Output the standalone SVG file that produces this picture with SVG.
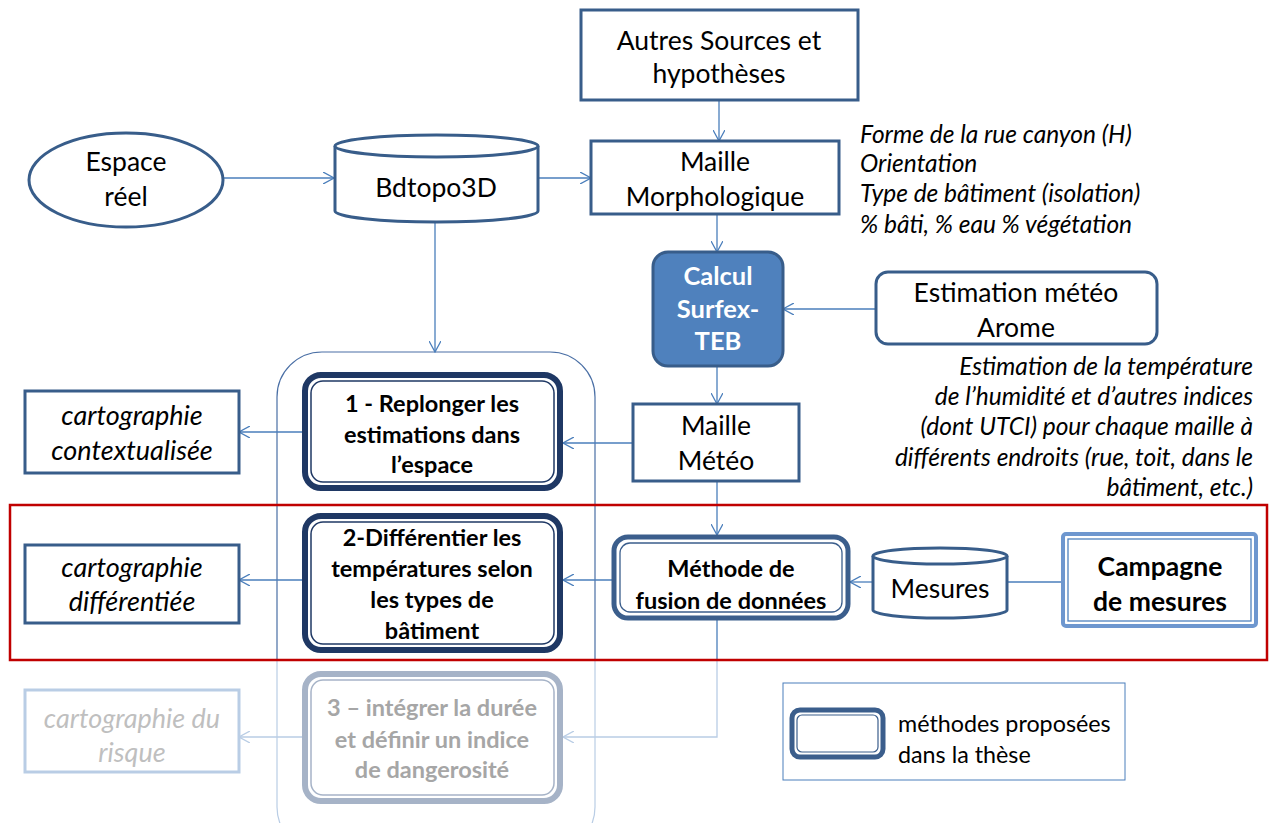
<svg xmlns="http://www.w3.org/2000/svg" width="1269" height="823" viewBox="0 0 1269 823">
<defs>
<marker id="arr" viewBox="0 0 12 12" refX="11" refY="6" markerWidth="12" markerHeight="12" markerUnits="userSpaceOnUse" orient="auto">
<path d="M0,0 L11,6 L0,12" fill="none" stroke="#4a7ebb" stroke-width="1.3"/>
</marker>
<marker id="arrL" viewBox="0 0 12 12" refX="11" refY="6" markerWidth="12" markerHeight="12" markerUnits="userSpaceOnUse" orient="auto">
<path d="M0,0 L11,6 L0,12" fill="none" stroke="#b9cde5" stroke-width="1.3"/>
</marker>
<clipPath id="topc"><rect x="0" y="0" width="1269" height="660"/></clipPath>
<clipPath id="botc"><rect x="0" y="660" width="1269" height="200"/></clipPath>
</defs>
<style>
text{font-family:Lato,"Liberation Sans",sans-serif;fill:#000;text-anchor:middle}
.n{font-size:26.5px}
.it{font-style:italic;font-size:24.5px}
.b{font-weight:bold;font-size:23.5px}
.box{fill:#fff;stroke:#385d8a;stroke-width:3}
.con{fill:none;stroke:#4a7ebb;stroke-width:1.3}
.conL{fill:none;stroke:#b9cde5;stroke-width:1.3}
.dk{fill:#fff;stroke:#1f3864;stroke-width:6}
.dki{fill:none;stroke:#1f3864;stroke-width:1.5}
</style>
<rect width="1269" height="823" fill="#fff"/>

<g id="container">
<rect x="277" y="352" width="318" height="500" rx="45" fill="none" stroke="#4a6fa5" stroke-width="1.2" clip-path="url(#topc)"/>
<rect x="277" y="352" width="318" height="500" rx="45" fill="none" stroke="#b9cde5" stroke-width="1.2" clip-path="url(#botc)"/>
</g>

<g id="connectors">
<line class="con" x1="719" y1="100" x2="719" y2="141" marker-end="url(#arr)"/>
<line class="con" x1="224" y1="178" x2="334" y2="178" marker-end="url(#arr)"/>
<line class="con" x1="538" y1="178" x2="591" y2="178" marker-end="url(#arr)"/>
<line class="con" x1="717" y1="214" x2="717" y2="252" marker-end="url(#arr)"/>
<line class="con" x1="876" y1="309" x2="783" y2="309" marker-end="url(#arr)"/>
<line class="con" x1="435" y1="222" x2="435" y2="352" marker-end="url(#arr)"/>
<line class="con" x1="717" y1="366" x2="717" y2="404" marker-end="url(#arr)"/>
<line class="con" x1="633" y1="443" x2="563" y2="443" marker-end="url(#arr)"/>
<line class="con" x1="302" y1="432" x2="239" y2="432" marker-end="url(#arr)"/>
<line class="con" x1="717" y1="481" x2="717" y2="535" marker-end="url(#arr)"/>
<line class="con" x1="873" y1="582" x2="850" y2="582" marker-end="url(#arr)"/>
<line class="con" x1="1062" y1="582" x2="1007" y2="582"/>
<line class="con" x1="612" y1="580" x2="563" y2="580" marker-end="url(#arr)"/>
<line class="con" x1="302" y1="580" x2="239" y2="580" marker-end="url(#arr)"/>
<line class="con" x1="717" y1="620" x2="717" y2="660"/>
<path class="conL" d="M717,660 V737 H563" marker-end="url(#arrL)"/>
<line class="conL" x1="302" y1="737" x2="239" y2="737" marker-end="url(#arrL)"/>
</g>

<g id="red-frame">
<rect x="10" y="505" width="1257" height="155" fill="none" stroke="#c00000" stroke-width="2.5"/>
</g>

<g id="autres-sources">
<rect class="box" x="581" y="10" width="277" height="90"/>
<text class="n" x="719" y="50">Autres Sources et</text>
<text class="n" x="719" y="83">hypothèses</text>
</g>

<g id="espace-reel">
<ellipse cx="126" cy="180" rx="97" ry="47" fill="#fff" stroke="#385d8a" stroke-width="3"/>
<text class="n" x="126" y="171">Espace</text>
<text class="n" x="126" y="206">réel</text>
</g>

<g id="bdtopo3d">
<path d="M335,146 V211 A101.5,11 0 0 0 538,211 V146" fill="#fff" stroke="#385d8a" stroke-width="3"/>
<ellipse cx="436.5" cy="146" rx="101.5" ry="11" fill="#fff" stroke="#385d8a" stroke-width="3"/>
<text class="n" x="436" y="197">Bdtopo3D</text>
</g>

<g id="maille-morpho">
<rect class="box" x="591" y="141" width="248" height="73"/>
<text class="n" x="715" y="171">Maille</text>
<text class="n" x="715" y="206">Morphologique</text>
</g>

<g id="morpho-notes">
<text class="it" x="860" y="143" style="text-anchor:start">Forme de la rue canyon (H)</text>
<text class="it" x="860" y="172" style="text-anchor:start">Orientation</text>
<text class="it" x="860" y="202" style="text-anchor:start">Type de bâtiment (isolation)</text>
<text class="it" x="860" y="233" style="text-anchor:start">% bâti, % eau % végétation</text>
</g>

<g id="calcul-surfex">
<rect x="653" y="252" width="130" height="114" rx="15" fill="#4f81bd" stroke="#385d8a" stroke-width="3"/>
<text class="b" x="718" y="285" style="fill:#fff;font-size:25.5px">Calcul</text>
<text class="b" x="718" y="318" style="fill:#fff;font-size:25.5px">Surfex-</text>
<text class="b" x="718" y="350" style="fill:#fff;font-size:25.5px">TEB</text>
</g>

<g id="estimation-meteo">
<rect class="box" x="876" y="272" width="281" height="72" rx="12"/>
<text class="n" x="1016" y="302">Estimation météo</text>
<text class="n" x="1016" y="337">Arome</text>
</g>

<g id="meteo-notes">
<text class="it" x="1253" y="375" style="text-anchor:end">Estimation de la température</text>
<text class="it" x="1253" y="405" style="text-anchor:end">de l’humidité et d’autres indices</text>
<text class="it" x="1253" y="435" style="text-anchor:end">(dont UTCI)  pour chaque maille à</text>
<text class="it" x="1253" y="466" style="text-anchor:end">différents endroits (rue, toit, dans le</text>
<text class="it" x="1253" y="496" style="text-anchor:end">bâtiment, etc.)</text>
</g>

<g id="maille-meteo">
<rect class="box" x="633" y="404" width="166" height="77"/>
<text class="n" x="716" y="435">Maille</text>
<text class="n" x="716" y="470">Météo</text>
</g>

<g id="methode-1">
<rect class="dk" x="305" y="375" width="255" height="113" rx="16"/>
<rect class="dki" x="311" y="381" width="243" height="101" rx="12"/>
<text class="b" x="432" y="412">1 - Replonger les</text>
<text class="b" x="432" y="443">estimations  dans</text>
<text class="b" x="432" y="473">l’espace</text>
</g>

<g id="carto-contextualisee">
<rect class="box" x="25" y="391" width="214" height="82"/>
<text class="it" x="132" y="425" style="font-size:27px">cartographie</text>
<text class="it" x="132" y="460" style="font-size:27px">contextualisée</text>
</g>

<g id="methode-2">
<rect class="dk" x="305" y="516" width="255" height="134" rx="16"/>
<rect class="dki" x="311" y="522" width="243" height="122" rx="12"/>
<text class="b" x="432" y="546">2-Différentier les</text>
<text class="b" x="432" y="577">températures selon</text>
<text class="b" x="432" y="608">les types de</text>
<text class="b" x="432" y="639">bâtiment</text>
</g>

<g id="carto-differentiee">
<rect class="box" x="25" y="545" width="214" height="78"/>
<text class="it" x="132" y="577" style="font-size:27px">cartographie</text>
<text class="it" x="132" y="611" style="font-size:27px">différentiée</text>
</g>

<g id="methode-fusion">
<rect x="614" y="537" width="234" height="81" rx="14" fill="#fff" stroke="#3b5e8c" stroke-width="5"/>
<rect x="620" y="543" width="222" height="69" rx="10" fill="none" stroke="#3b5e8c" stroke-width="1.3"/>
<text class="b" x="731" y="577">Méthode de</text>
<text class="b" x="731" y="609">fusion de données</text>
</g>

<g id="mesures">
<path d="M873,556 V610 A67,8 0 0 0 1007,610 V556" fill="#fff" stroke="#385d8a" stroke-width="3"/>
<ellipse cx="940" cy="556" rx="67" ry="8" fill="#fff" stroke="#385d8a" stroke-width="3"/>
<text class="n" x="940" y="598">Mesures</text>
</g>

<g id="campagne">
<rect x="1063" y="534" width="193" height="92" rx="3" fill="#fff" stroke="#6e97cf" stroke-width="4"/>
<rect x="1068" y="539" width="183" height="82" fill="none" stroke="#4f81bd" stroke-width="1.3"/>
<text class="b" x="1160" y="576" style="font-size:26.5px">Campagne</text>
<text class="b" x="1160" y="611" style="font-size:26.5px">de mesures</text>
</g>

<g id="methode-3">
<rect x="305" y="674" width="255" height="127" rx="16" fill="#fff" stroke="#a6b3c7" stroke-width="6"/>
<rect x="311" y="680" width="243" height="115" rx="12" fill="none" stroke="#a6b3c7" stroke-width="1.5"/>
<text class="b" x="432" y="716" style="fill:#a6a6a6">3 – intégrer la durée</text>
<text class="b" x="432" y="748" style="fill:#a6a6a6">et définir un indice</text>
<text class="b" x="432" y="778" style="fill:#a6a6a6">de dangerosité</text>
</g>

<g id="carto-risque">
<rect x="25" y="690" width="214" height="82" fill="#fff" stroke="#b9cde5" stroke-width="3"/>
<text class="it" x="132" y="728" style="font-size:27px;fill:#bfbfbf">cartographie du</text>
<text class="it" x="132" y="762" style="font-size:27px;fill:#bfbfbf">risque</text>
</g>

<g id="legend">
<rect x="783" y="683" width="342" height="97" fill="#fff" stroke="#4a7ebb" stroke-width="1"/>
<rect x="792" y="710" width="91" height="47" rx="8" fill="#fff" stroke="#3b5e8c" stroke-width="5"/>
<rect x="797" y="715" width="81" height="37" rx="5" fill="none" stroke="#3b5e8c" stroke-width="1.2"/>
<text x="898" y="732" style="text-anchor:start;font-size:23.3px">méthodes proposées</text>
<text x="898" y="763" style="text-anchor:start;font-size:23.3px">dans la thèse</text>
</g>
</svg>
